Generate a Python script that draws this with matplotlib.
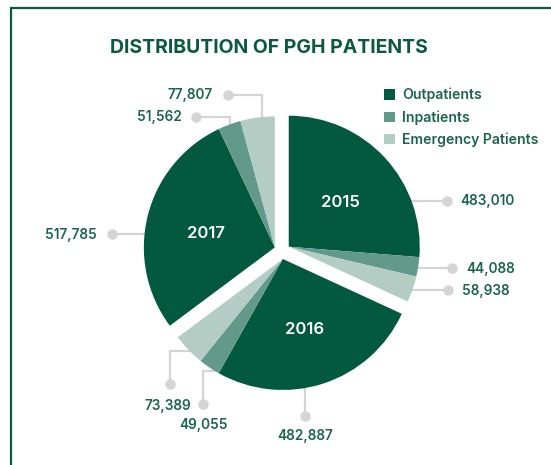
import matplotlib
matplotlib.use("Agg")
import matplotlib.pyplot as plt
import numpy as np

plt.rcParams['font.family'] = ['Inter', 'DejaVu Sans']

years = ["2015", "2016", "2017"]
categories = ["Outpatients", "Inpatients", "Emergency Patients"]
outpatients = [483010, 482887, 517785]
inpatients = [44088, 49055, 51562]
emergency = [58938, 73389, 77807]

colors = ["#03593d", "#63998a", "#b3cdc5"]
DARK = "#0b5a3e"
LABEL = "#1a654b"
GREY = "#d4d4d4"

W, H = 551, 465
fig = plt.figure(figsize=(W / 100, H / 100), dpi=100)
ax = fig.add_axes([0, 0, 1, 1])

def P(x, y):
    return (x, H - y)

cx, cy = P(282, 251)
R = 131
D = 8

groups = [[outpatients[i], inpatients[i], emergency[i]] for i in range(3)]
total = float(sum(sum(g) for g in groups))

wedge_sets = []
start = 90.0
for g in groups:
    fr = [v / total for v in g]
    span = 360.0 * sum(fr)
    mid = np.deg2rad(start - span / 2)
    c = (cx + D * np.cos(mid), cy + D * np.sin(mid))
    wedges, _ = ax.pie(fr, colors=colors, startangle=start, counterclock=False,
                       normalize=False, radius=R, center=c,
                       wedgeprops=dict(linewidth=0, zorder=3))
    wedge_sets.append(wedges)
    start -= span

# year labels on outpatient wedges
for yr, wedges in zip(years, wedge_sets):
    w = wedges[0]
    th = np.deg2rad((w.theta1 + w.theta2) / 2)
    x0, y0 = w.center
    ax.text(x0 + 0.54 * R * np.cos(th), y0 + 0.54 * R * np.sin(th) - 3.5, yr,
            color="white", fontsize=12, fontweight="semibold",
            ha="center", va="center", zorder=5)

# leader line layout (pixel coords): path, text pos, alignment
layout = {
    (0, 0): ([(405, 201), (446.7, 201)], (460, 201.5), "left", "center"),
    (0, 1): ([(405, 268), (451.7, 268)], (466, 268.5), "left", "center"),
    (0, 2): ([(400, 290), (447.7, 290)], (462, 290.5), "left", "center"),
    (1, 0): ([(305, 380), (305, 415.7)], (305, 435.5), "center", "center"),
    (1, 1): ([(222, 370.7), (203.3, 370.7), (203.3, 404)], (203, 424.5), "center", "center"),
    (1, 2): ([(192, 350.7), (170, 350.7), (170, 384.3)], (168, 405.5), "center", "center"),
    (2, 0): ([(160, 234), (111.7, 234)], (97, 234.5), "right", "center"),
    (2, 1): ([(230, 135), (230, 116.7), (195.7, 116.7)], (181.7, 117), "right", "center"),
    (2, 2): ([(261.7, 125), (261.7, 95), (228, 95)], (213, 95.5), "right", "center"),
}
for (gi, ci), (path, tpos, ha, va) in layout.items():
    pts = np.array([P(*p) for p in path])
    ax.plot(pts[:, 0], pts[:, 1], color=GREY, lw=1.6, zorder=1,
            solid_capstyle="butt", solid_joinstyle="miter")
    ax.plot(pts[-1, 0], pts[-1, 1], "o", color=GREY, ms=6.5, zorder=2)
    tx, ty = P(*tpos)
    ax.text(tx, ty, f"{groups[gi][ci]:,}", color=LABEL, fontsize=9.8,
            fontweight="semibold", ha=ha, va=va, zorder=5)

# legend
leg = ax.legend(wedge_sets[0], categories, loc="upper left",
                bbox_to_anchor=(384 / W, 1 - 88 / H), bbox_transform=fig.transFigure,
                frameon=False, fontsize=10.1, handlelength=0.78, handleheight=0.78,
                handletextpad=0.5, labelspacing=0.55, borderpad=0, borderaxespad=0)
for t in leg.get_texts():
    t.set_color(LABEL)
    t.set_fontweight("semibold")

# title
tx, ty = P(269, 48.5)
ax.text(tx, ty, "DISTRIBUTION OF PGH PATIENTS", color=DARK, fontsize=14,
        fontweight="bold", ha="center", va="center")

# frame lines
ax.plot([10, W], [H - 8, H - 8], color=DARK, lw=1.6, solid_capstyle="butt")
ax.plot([11, 11], [H - 8, 0], color=DARK, lw=1.6, solid_capstyle="butt")

ax.set_xlim(0, W)
ax.set_ylim(0, H)
ax.set_aspect("auto")
ax.axis("off")

fig.savefig("out.png", dpi=100)
